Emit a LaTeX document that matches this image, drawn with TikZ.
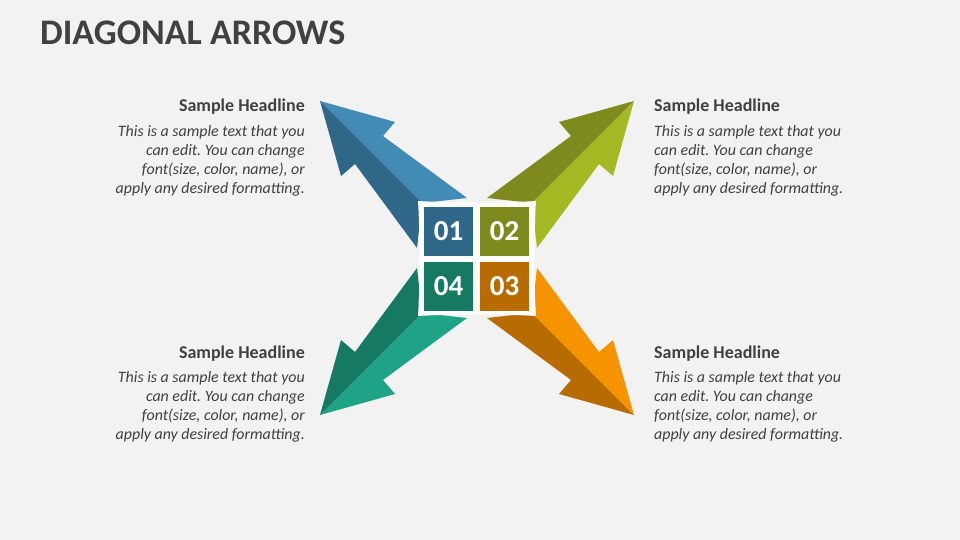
\documentclass[tikz,border=0pt]{standalone}
\usepackage{fontspec}
\setmainfont{Carlito}
\frenchspacing
\usetikzlibrary{positioning}
\definecolor{bg}{HTML}{F2F2F2}
\definecolor{ink}{HTML}{404040}
\definecolor{blueL}{HTML}{418BB5}
\definecolor{blueD}{HTML}{2E6787}
\definecolor{oliveL}{HTML}{A7B825}
\definecolor{oliveD}{HTML}{7E8A1E}
\definecolor{orangeL}{HTML}{F59300}
\definecolor{orangeD}{HTML}{B86C00}
\definecolor{tealL}{HTML}{1FA386}
\definecolor{tealD}{HTML}{167A62}

% one 3D arrow, drawn for the upper left and mirrored for the rest
\newcommand{\diagarrow}[4]{%
  \begin{scope}[shift={(477,258)}, xscale=#1, yscale=#2]
    \fill[#3] (-157,-157) -- (-82,-136) -- (-94,-122) -- (-10,-60) -- (-55,-55) -- cycle;
    \fill[#4] (-157,-157) -- (-55,-55) -- (-60,-10) -- (-122,-94) -- (-136,-82) -- cycle;
  \end{scope}}

\tikzset{
  head/.style={font=\fontsize{18}{21}\selectfont\bfseries, text=ink, inner sep=0pt},
  body/.style={font=\fontsize{15.9}{19}\selectfont\itshape, text=ink, inner sep=0pt},
  numbox/.style={minimum width=49pt, minimum height=49pt, inner sep=0pt, text=white,
    font=\fontsize{29}{31}\selectfont\bfseries}
}

\begin{document}
\begin{tikzpicture}[x=1pt, y=-1pt]
  \fill[bg] (0,0) rectangle (960,540);
  \useasboundingbox (0,0) rectangle (960,540);

  \node[anchor=base west, font=\fontsize{36}{42}\selectfont\bfseries, text=ink, inner sep=0pt]
    (title) at (40,45) {DIAGONAL ARROWS};

  % arrows
  \diagarrow{1}{1}{blueL}{blueD}
  \diagarrow{-1}{1}{oliveD}{oliveL}
  \diagarrow{-1}{-1}{orangeD}{orangeL}
  \diagarrow{1}{-1}{tealL}{tealD}

  % white frame and number boxes
  \fill[white] (418,201) .. controls (450,203) and (504,203) .. (536,201)
    .. controls (534,232) and (534,285) .. (536,316)
    .. controls (504,314) and (450,314) .. (418,316)
    .. controls (420,285) and (420,232) .. (418,201);
  \node[numbox, fill=blueD] (n01) at (448.5,231) {01};
  \node[numbox, fill=oliveD] (n02) at (504.5,231) {02};
  \node[numbox, fill=orangeD] (n03) at (504.5,286) {03};
  \node[numbox, fill=tealD] (n04) at (448.5,286) {04};

  % texts
  \node[head, anchor=base east] (h1) at (305,112) {Sample Headline};
  \node[body, align=right, below left=10pt and 0pt of h1.south east] (t1)
    {This is a sample text that you\\can edit. You can change\\font(size, color, name), or\\apply any desired formatting.};
  \node[head, anchor=base west] (h2) at (654,112) {Sample Headline};
  \node[body, align=left, below right=10pt and 0pt of h2.south west] (t2)
    {This is a sample text that you\\can edit. You can change\\font(size, color, name), or\\apply any desired formatting.};
  \node[head, anchor=base east] (h4) at (305,358) {Sample Headline};
  \node[body, align=right, below left=10pt and 0pt of h4.south east] (t4)
    {This is a sample text that you\\can edit. You can change\\font(size, color, name), or\\apply any desired formatting.};
  \node[head, anchor=base west] (h3) at (654,358) {Sample Headline};
  \node[body, align=left, below right=10pt and 0pt of h3.south west] (t3)
    {This is a sample text that you\\can edit. You can change\\font(size, color, name), or\\apply any desired formatting.};
\end{tikzpicture}
\end{document}
